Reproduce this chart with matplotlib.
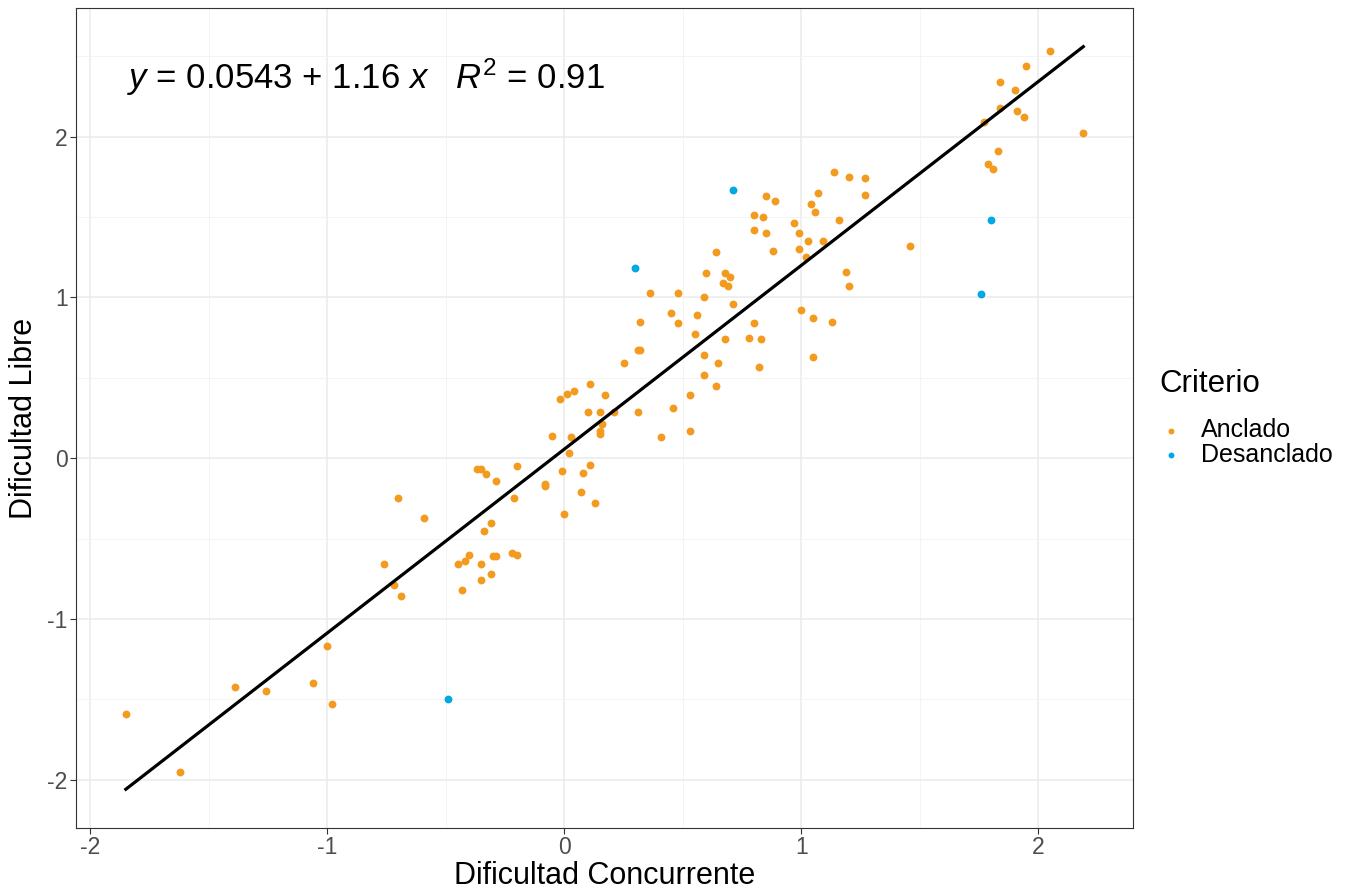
import numpy as np
import matplotlib
matplotlib.use('Agg')
from matplotlib import pyplot as plt
from matplotlib.ticker import MultipleLocator

plt.rcParams['font.family'] = ['Liberation Sans', 'DejaVu Sans']
plt.rcParams['mathtext.fontset'] = 'custom'
plt.rcParams['mathtext.rm'] = 'Liberation Sans'
plt.rcParams['mathtext.it'] = 'Liberation Sans:italic'
plt.rcParams['axes.unicode_minus'] = False

# datos
anclado_x = [-1.85, -1.62, -1.39, -1.26, -1.06, -1.00, -0.98, -0.76, -0.72, -0.69,
             -0.70, -0.59, -0.37, -0.35, -0.33, -0.29, -0.20, -0.21, -0.08, -0.08,
             -0.31, -0.34, -0.45, -0.42, -0.40, -0.35, -0.30, -0.29, -0.22, -0.20,
             -0.31, -0.35, -0.43, 0.31, 0.32, 0.25, 0.11, -0.02, 0.01, 0.04,
             0.17, 0.10, 0.15, 0.21, 0.31, 0.46, 0.53, 0.16, 0.15, 0.15,
             -0.05, 0.03, 0.41, 0.53, 0.02, -0.01, 0.11, 0.08, 0.07, 0.13,
             0.00, 0.36, 0.48, 0.64, 0.60, 0.68, 0.70, 0.67, 0.69, 0.59,
             0.71, 0.45, 0.48, 0.56, 0.32, 0.55, 0.80, 0.68, 0.78, 0.59,
             0.65, 0.82, 0.59, 0.64, 0.85, 0.89, 0.80, 0.84, 0.80, 0.85,
             0.88, 1.14, 1.20, 1.27, 1.27, 1.07, 1.04, 1.06, 0.97, 1.16,
             0.99, 1.03, 1.09, 0.99, 1.02, 1.19, 1.20, 1.00, 1.05, 1.13,
             1.05, 0.83, 1.79, 1.81, 1.46, 2.05, 1.95, 1.84, 1.90, 1.84,
             1.91, 1.94, 1.77, 2.19, 1.83]
anclado_y = [-1.59, -1.95, -1.42, -1.45, -1.40, -1.17, -1.53, -0.66, -0.79, -0.86,
             -0.25, -0.37, -0.07, -0.07, -0.10, -0.14, -0.05, -0.25, -0.17, -0.16,
             -0.40, -0.45, -0.66, -0.64, -0.60, -0.66, -0.61, -0.61, -0.59, -0.60,
             -0.72, -0.76, -0.82, 0.67, 0.67, 0.59, 0.46, 0.37, 0.40, 0.42,
             0.39, 0.29, 0.29, 0.29, 0.29, 0.31, 0.39, 0.21, 0.17, 0.15,
             0.14, 0.13, 0.13, 0.17, 0.03, -0.08, -0.04, -0.09, -0.21, -0.28,
             -0.35, 1.03, 1.03, 1.28, 1.15, 1.15, 1.13, 1.09, 1.07, 1.00,
             0.96, 0.90, 0.84, 0.89, 0.85, 0.77, 0.84, 0.74, 0.75, 0.64,
             0.59, 0.57, 0.52, 0.45, 1.63, 1.60, 1.51, 1.50, 1.42, 1.40,
             1.29, 1.78, 1.75, 1.74, 1.64, 1.65, 1.58, 1.53, 1.46, 1.48,
             1.40, 1.35, 1.35, 1.30, 1.25, 1.16, 1.07, 0.92, 0.87, 0.85,
             0.63, 0.74, 1.83, 1.80, 1.32, 2.53, 2.44, 2.34, 2.29, 2.18,
             2.16, 2.12, 2.09, 2.02, 1.91]
desanclado_x = [-0.49, 0.30, 0.71, 1.80, 1.76]
desanclado_y = [-1.50, 1.18, 1.67, 1.48, 1.02]

intercepto = 0.0543
pendiente = 1.16
r2 = 0.91

naranja = '#F39B1E'
azul = '#00A8E6'

fig = plt.figure(figsize=(13.46, 8.89), dpi=100)
ax = fig.add_axes([0.0565, 0.0686, 0.7853, 0.9224])

ax.scatter(anclado_x, anclado_y, s=32, color=naranja, linewidths=0, label='Anclado', zorder=3)
ax.scatter(desanclado_x, desanclado_y, s=32, color=azul, linewidths=0, label='Desanclado', zorder=3)

# recta de regresion ajustada a todos los puntos
todos_x = np.array(anclado_x + desanclado_x)
todos_y = np.array(anclado_y + desanclado_y)
b, a = np.polyfit(todos_x, todos_y, 1)
x_ = np.linspace(todos_x.min(), todos_x.max(), 100)
ax.plot(x_, a + b * x_, color='black', lw=2.3, zorder=4)

ax.text(0.048, 0.915, r'$\it{y}$ = %.4f + %.2f $\it{x}$   $\it{R}^2$ = %.2f' % (intercepto, pendiente, r2),
        transform=ax.transAxes, fontsize=25, va='center', ha='left')

ax.set_xlim(-2.06, 2.40)
ax.set_ylim(-2.30, 2.80)
ax.xaxis.set_major_locator(MultipleLocator(1))
ax.yaxis.set_major_locator(MultipleLocator(1))
ax.xaxis.set_minor_locator(MultipleLocator(0.5))
ax.yaxis.set_minor_locator(MultipleLocator(0.5))
ax.grid(which='major', color='#EBEBEB', lw=1.1, zorder=0)
ax.grid(which='minor', color='#F2F2F2', lw=0.6, zorder=0)
ax.set_axisbelow(True)
for s in ax.spines.values():
    s.set_color('#333333')
    s.set_linewidth(0.8)
ax.tick_params(which='major', length=4, color='#333333', labelsize=16.5, labelcolor='#4D4D4D', pad=2)
ax.tick_params(which='minor', length=0)

ax.set_xlabel('Dificultad Concurrente', fontsize=22, labelpad=1)
ax.set_ylabel('Dificultad Libre', fontsize=22, labelpad=6)

leg = ax.legend(title='Criterio', loc='center left', bbox_to_anchor=(1.015, 0.50),
                frameon=False, fontsize=18, title_fontsize=22.5, markerscale=0.75,
                handlelength=1.0, handletextpad=0.7, labelspacing=0.02, borderaxespad=0)
leg._legend_box.align = 'left'
leg._legend_box.sep = 14

plt.savefig('out.png', dpi=100)
